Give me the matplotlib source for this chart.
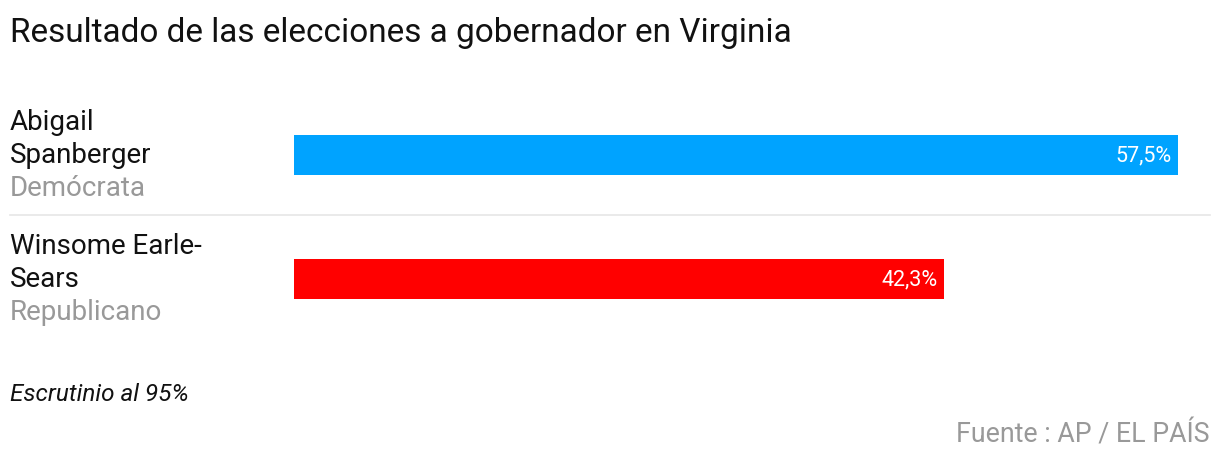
import matplotlib.pyplot as plt
from matplotlib.lines import Line2D

plt.rcParams['font.family'] = ['Roboto', 'DejaVu Sans']

# datos
nombres = [['Abigail', 'Spanberger'], ['Winsome Earle-', 'Sears']]
partidos = ['Demócrata', 'Republicano']
votos = [57.5, 42.3]
colores = ['#00A3FF', '#FF0000']

W, H = 1220, 464
fig = plt.figure(figsize=(W / 100, H / 100), dpi=100)

def fx(px):
    return px / W

def fy(py):
    return 1 - py / H

# ejes de las barras (en pixeles de la figura)
x0, x1 = 294, 1210
y_top, y_bot = 94, 342
ax = fig.add_axes([fx(x0), fy(y_bot), fx(x1) - fx(x0), fy(y_top) - fy(y_bot)])
escala = 884 / 57.5  # px por punto porcentual
ax.set_xlim(0, (x1 - x0) / escala)
ax.set_ylim(1.5, -0.5)
ax.axis('off')

ax.barh(range(len(votos)), votos, height=40 / 124, color=colores)
for i, v in enumerate(votos):
    ax.annotate(f'{v:.1f}%'.replace('.', ','), xy=(v, i), xytext=(-5, 0),
                textcoords='offset points', ha='right', va='center',
                color='white', fontsize=15.5)

# etiquetas de candidatos
bases = [130, 254]
for i, (lineas, partido) in enumerate(zip(nombres, partidos)):
    b = bases[i]
    for j, linea in enumerate(lineas):
        fig.text(fx(10), fy(b + 33 * j), linea, ha='left', va='baseline',
                 fontsize=20, color='#111111')
    fig.text(fx(10), fy(b + 66), partido, ha='left', va='baseline',
             fontsize=20, color='#999999')

# separador
fig.add_artist(Line2D([fx(10), fx(1210)], [fy(216), fy(216)],
                      color='#e6e6e6', linewidth=1.2))

# titulo y notas
fig.text(fx(10), fy(42), 'Resultado de las elecciones a gobernador en Virginia',
         ha='left', va='baseline', fontsize=24, color='#111111')
fig.text(fx(10), fy(401), 'Escrutinio al 95%', ha='left', va='baseline',
         fontsize=17.5, style='italic', color='#111111')
fig.text(fx(1210), fy(443), 'Fuente : AP / EL PAÍS', ha='right', va='baseline',
         fontsize=19.3, color='#999999')

fig.savefig('out.png', dpi=100)
